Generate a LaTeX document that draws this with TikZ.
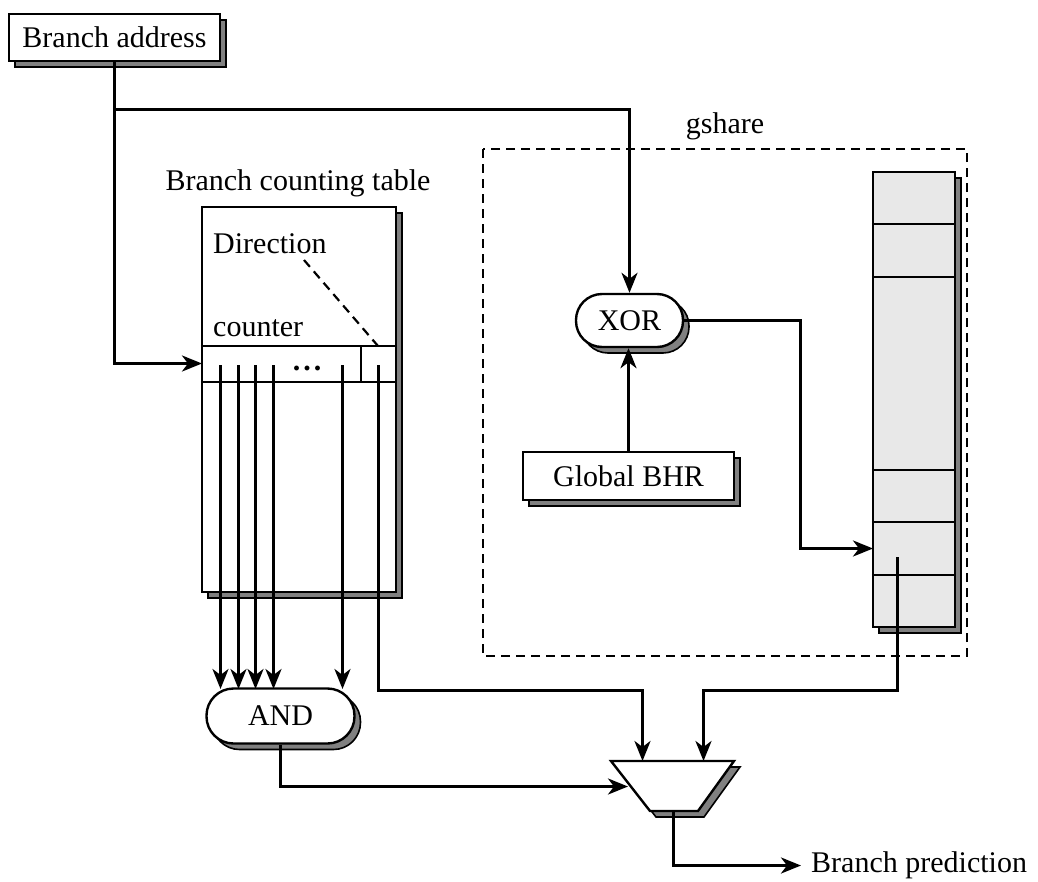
\documentclass[tikz,border=0pt]{standalone}
\usepackage{fontspec}
\setmainfont{Liberation Serif}
\usetikzlibrary{arrows.meta,shadows}
\definecolor{shadowgray}{gray}{0.5}
\definecolor{phtfill}{gray}{0.91}
\begin{document}
\begin{tikzpicture}[x=1pt,y=1pt,
  every node/.style={font=\fontsize{30}{36}\selectfont, inner sep=0pt},
  ln/.style={line width=2.6pt},
  arr/.style={-{Stealth[length=20pt,width=16pt,inset=6pt]}, line width=3pt},
  sh/.style={copy shadow={shadow xshift=6pt, shadow yshift=-6pt, fill=shadowgray, draw=black, line width=1.6pt}},
  blk/.style={draw, fill=white, line width=2.4pt, sh},
  dashline/.style={dash pattern=on 9pt off 6pt, line width=2.2pt}]
\useasboundingbox (0,0) rectangle (1038,-881);

% gshare region
\draw[dashline] (483,-149) rectangle (967,-656);
\node[anchor=base] (gs) at (725,-133) {gshare};

% Branch address
\node[blk, minimum width=211pt, minimum height=47pt] (addr) at (114.5,-37.5) {Branch address};

% Branch counting table
\node[anchor=base] (bctlabel) at (298,-190) {Branch counting table};
\node[blk, minimum width=194pt, minimum height=385pt] (tab) at (299,-399.5) {};
\node[anchor=base west] (dir) at (213,-253) {Direction};
\node[anchor=base west] (cnt) at (213,-336) {counter};
\draw[ln] (tab.west |- 0,-346) -- (tab.east |- 0,-346);
\draw[ln] (tab.west |- 0,-382) -- (tab.east |- 0,-382);
\draw[ln] (361,-346) -- (361,-382);
\node (dots) at (307,-368) {\textbf{.\hspace{3pt}.\hspace{3pt}.}};
\draw[dashline] (304,-260) -- (378,-346);

% PHT
\node[blk, fill=phtfill, minimum width=82pt, minimum height=455pt] (pht) at (914,-399.5) {};
\foreach \y in {224,277,470,522,575}
  \draw[ln] (pht.west |- 0,-\y) -- (pht.east |- 0,-\y);

% XOR and BHR
\node[blk, rounded corners=26pt, minimum width=107pt, minimum height=53pt] (xor) at (629.5,-320.5) {XOR};
\node[blk, minimum width=211pt, minimum height=48pt] (bhr) at (628.5,-476) {Global BHR};

% AND
\node[blk, rounded corners=27pt, minimum width=148pt, minimum height=55pt] (and) at (280.5,-716) {AND};

% Mux
\coordinate (mTL) at (611,-761);
\coordinate (mTR) at (734,-761);
\coordinate (mBR) at (698,-811);
\coordinate (mBL) at (650,-811);
\filldraw[fill=shadowgray, line width=1.6pt] (617,-767) -- (740,-767) -- (704,-817) -- (656,-817) -- cycle;
\filldraw[fill=white, line width=2.4pt] (mTL) -- (mTR) -- (mBR) -- (mBL) -- cycle;
\coordinate (in1) at (642.5,-761);
\coordinate (in2) at (703.5,-761);
\coordinate (inL) at (628,-786.5);
\coordinate (mout) at (673.5,-811);

\node[anchor=west, inner xsep=10pt] (pred) at (801,-865.5) {Branch prediction};

% connectors
\coordinate (j1) at (114.5,-109.5);
\coordinate (rowin) at (202,-363.5);
\draw[arr] (addr.south) |- (rowin);
\draw[arr] (j1) -| (xor.north);
\draw[arr] (bhr.north) -- (bhr.north |- xor.south);
\coordinate (xbend) at (800.5,-548.5);
\coordinate (phtin) at (873,-548.5);
\draw[arr] (xor.east) -| (xbend) -- (phtin);

\foreach \x in {220.5,238.5,255.5,273.5,342.5}
  \draw[arr] (\x,-365) -- (\x,-689);
\draw[arr] (378.5,-365) -- (378.5,-690.5) -| (in1);
\draw[arr] (897.5,-557) -- (897.5,-690.5) -| (in2);
\draw[arr] (and.south) |- (inL);
\draw[arr] (mout) |- (pred.west);
\end{tikzpicture}
\end{document}
